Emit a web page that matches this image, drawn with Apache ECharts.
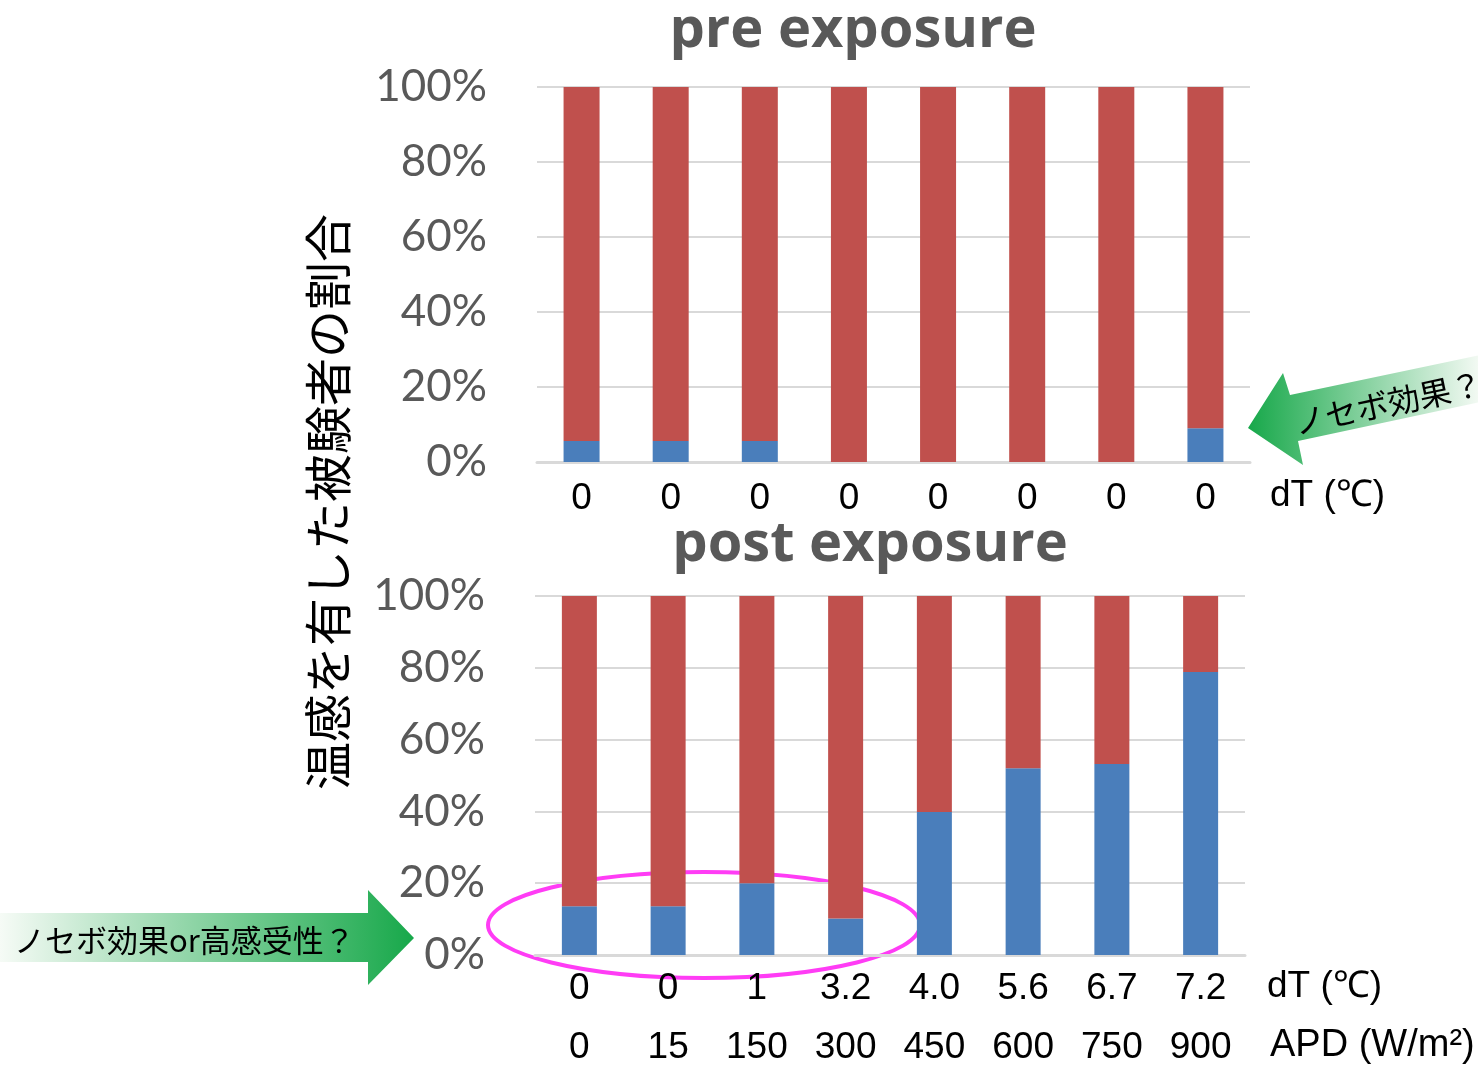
<!DOCTYPE html>
<html><head><meta charset="utf-8">
<script src="https://cdn.jsdelivr.net/npm/echarts@6/dist/echarts.min.js"></script>
<style>html,body{margin:0;padding:0;background:#fff}#c{width:1478px;height:1066px}</style>
</head><body><div id="c"></div>
<script>
const preLabels = ['0','0','0','0','0','0','0','0'];
const preBlue = [5.6, 5.6, 5.6, 0, 0, 0, 0, 9.0];
const preRed  = [94.4, 94.4, 94.4, 100, 100, 100, 100, 91.0];
const postDT  = ['0','0','1','3.2','4.0','5.6','6.7','7.2'];
const postAPD = ['0','15','150','300','450','600','750','900'];
const postBlue = [13.6, 13.6, 20.0, 10.2, 39.8, 52.0, 53.2, 78.8];
const postRed  = [86.4, 86.4, 80.0, 89.8, 60.2, 48.0, 46.8, 21.2];
const yTicks = [0, 20, 40, 60, 80, 100];

const BLUE = '#4a7ebb', RED = '#c0504d', GRID = '#d9d9d9', GRAY = '#595959';
const chart = echarts.init(document.getElementById('c'));

const yAxisCommon = (gi) => ({
  gridIndex: gi, type: 'value', min: yTicks[0], max: yTicks[yTicks.length-1], interval: 20,
  axisLine: {show: false}, axisTick: {show: false},
  splitLine: {lineStyle: {color: GRID, width: 2}},
  axisLabel: {formatter: '{value}%', color: GRAY, fontFamily: 'Lato', fontSize: 44, margin: 50}
});
const xLabel = (m) => ({color: '#000', fontFamily: 'Liberation Sans', fontSize: 37, margin: m, interval: 0});

chart.setOption({
  animation: false,
  grid: [
    {left: 537, right: 228, top: 87, height: 375},
    {left: 535, right: 233, top: 596, height: 359}
  ],
  xAxis: [
    {gridIndex: 0, type: 'category', data: preLabels, axisTick: {show: false},
     axisLine: {lineStyle: {color: GRID, width: 3}}, axisLabel: xLabel(18)},
    {gridIndex: 1, type: 'category', data: postDT, axisTick: {show: false},
     axisLine: {lineStyle: {color: GRID, width: 3}}, axisLabel: xLabel(15)},
    {gridIndex: 1, type: 'category', data: postAPD, position: 'bottom', offset: 59, axisTick: {show: false},
     axisLine: {show: false}, axisLabel: xLabel(15)}
  ],
  yAxis: [yAxisCommon(0), yAxisCommon(1)],
  series: [
    {type: 'bar', xAxisIndex: 0, yAxisIndex: 0, stack: 'pre', data: preBlue, barWidth: 36, itemStyle: {color: BLUE}},
    {type: 'bar', xAxisIndex: 0, yAxisIndex: 0, stack: 'pre', data: preRed, barWidth: 36, itemStyle: {color: RED}},
    {type: 'bar', xAxisIndex: 1, yAxisIndex: 1, stack: 'post', data: postBlue, barWidth: 35, itemStyle: {color: BLUE}},
    {type: 'bar', xAxisIndex: 1, yAxisIndex: 1, stack: 'post', data: postRed, barWidth: 35, itemStyle: {color: RED}}
  ],
  graphic: [
    {type: 'text', x: 853, y: 31, style: {text: 'pre exposure', fill: GRAY, font: 'bold 56px "Open Sans"', align: 'center', verticalAlign: 'middle'}},
    {type: 'text', x: 870, y: 545, style: {text: 'post exposure', fill: GRAY, font: 'bold 56px "Open Sans"', align: 'center', verticalAlign: 'middle'}},
    {type: 'text', x: 328, y: 502, rotation: Math.PI/2, style: {text: '温感を有した被験者の割合', fill: '#000', font: '48px "Noto Sans CJK JP"', align: 'center', verticalAlign: 'middle'}},
    {type: 'text', x: 1270, y: 496, style: {text: 'dT (℃)', fill: '#000', font: '37px "Liberation Sans"', verticalAlign: 'middle'}},
    {type: 'text', x: 1267, y: 987, style: {text: 'dT (℃)', fill: '#000', font: '37px "Liberation Sans"', verticalAlign: 'middle'}},
    {type: 'text', x: 1270, y: 1046, style: {text: 'APD (W/m²)', fill: '#000', font: '38px "Liberation Sans"', verticalAlign: 'middle'}},
    {type: 'polygon', shape: {points: [[1248,428],[1283,373],[1290,395],[1480,355],[1480,402],[1298,441],[1303,465]]},
     style: {fill: new echarts.graphic.LinearGradient(0,0,1,0,[{offset:0,color:'#17a84a'},{offset:1,color:'#f4faf4'}])}},
    {type: 'text', x: 1388, y: 403, rotation: 0.21, style: {text: 'ノセボ効果？', fill: '#000', font: '32px "Noto Sans CJK JP"', align: 'center', verticalAlign: 'middle'}},
    {type: 'polygon', shape: {points: [[0,913],[368,913],[368,890],[414,938],[368,985],[368,962],[0,962]]},
     style: {fill: new echarts.graphic.LinearGradient(0,0,1,0,[{offset:0,color:'#f6fbf6'},{offset:1,color:'#17a84a'}])}},
    {type: 'text', x: 14, y: 940, style: {text: 'ノセボ効果or高感受性？', fill: '#000', font: '31px "Noto Sans CJK JP"', verticalAlign: 'middle'}},
    {type: 'ellipse', shape: {cx: 704, cy: 925, rx: 216, ry: 53}, style: {fill: 'none', stroke: '#ff3cf5', lineWidth: 4}}
  ]
});
</script></body></html>
